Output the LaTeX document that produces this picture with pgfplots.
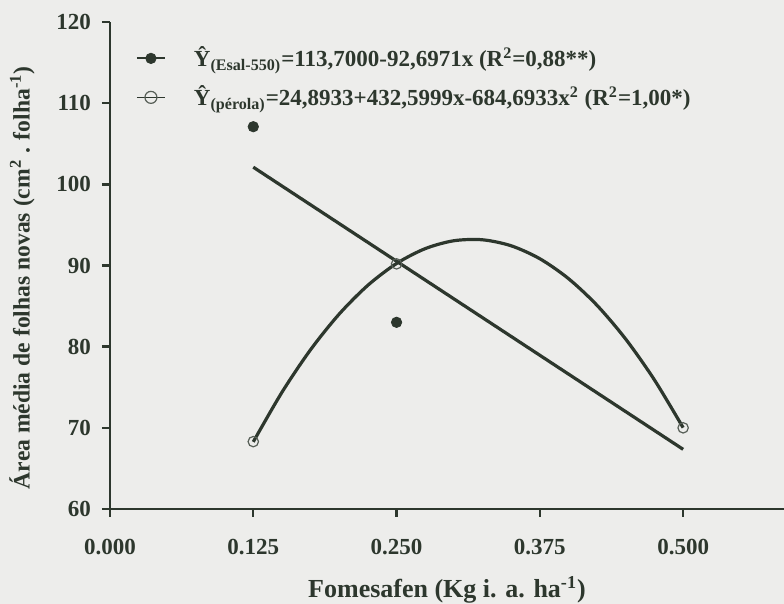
\documentclass[border=0pt]{standalone}
\usepackage{pgfplots}
\pgfplotsset{compat=1.18}
\usepackage{fontspec}
\setmainfont{Liberation Serif}
\definecolor{ink}{RGB}{45,55,45}
\definecolor{bg}{RGB}{237,237,235}
\begin{document}
\begin{tikzpicture}
\fill[bg] (-55pt,-47.5pt) rectangle (337pt,254.5pt);
\useasboundingbox (-55pt,-47.5pt) rectangle (337pt,254.5pt);
\begin{axis}[
  scale only axis, width=337pt, height=243.5pt,
  anchor=south west, at={(0,0)},
  xmin=0, xmax=0.588, ymin=60, ymax=120,
  axis lines*=left,
  axis line style={ink, line width=1.2pt},
  every tick/.style={ink, line width=1.2pt},
  tick align=outside, major tick length=4pt,
  xtick={0,0.125,0.25,0.375,0.5},
  xticklabels={0.000,0.125,0.250,0.375,0.500},
  ytick={60,70,80,90,100,110,120},
  tick label style={font=\bfseries\fontsize{11.5}{12}\selectfont, text=ink},
  /pgf/number format/assume math mode=true,
  xticklabel style={yshift=-7.5pt},
  yticklabel style={xshift=-2pt},
  xlabel={Fomesafen (Kg i. a. ha\textsuperscript{-1})},
  ylabel={Área média de folhas novas (cm\textsuperscript{2} . folha\textsuperscript{-1})},
  xlabel style={font=\bfseries\fontsize{13}{14}\selectfont, text=ink, yshift=-4pt},
  ylabel style={font=\bfseries\fontsize{11.8}{14}\selectfont, text=ink,
    at={(ticklabel cs:0.475)}, yshift=4pt},
  clip=false,
  legend style={draw=none, fill=none, at={(0.029,0.962)}, anchor=north west,
    font=\bfseries\fontsize{11.5}{13}\selectfont, text=ink, row sep=6pt,
    nodes={inner sep=1pt}},
  legend cell align=left,
]
% observed perola (open, under the lines)
\addplot[only marks, mark=o, mark size=2.6pt, ink!80, line width=0.6pt, forget plot] coordinates {(0.125,68.3) (0.25,90.2) (0.5,70.0)};
% fitted line Esal-550
\addplot[ink, line width=1.6pt, forget plot] coordinates {(0.125,102.113) (0.5,67.351)};
% fitted curve perola
\addplot[ink, line width=1.6pt, smooth, forget plot] coordinates {
(0.125,68.270) (0.15,74.377) (0.175,79.630) (0.2,84.025) (0.225,87.566)
(0.25,90.250) (0.275,92.078) (0.3,93.051) (0.325,93.168) (0.35,92.428)
(0.375,90.833) (0.4,88.382) (0.425,85.076) (0.45,80.913) (0.475,75.894) (0.5,70.020)};
% observed Esal-550
\addplot[only marks, mark=*, mark size=2.6pt, ink, forget plot] coordinates {(0.125,107.1) (0.25,83.0)};
\addlegendimage{legend image code/.code={\draw[ink,line width=1pt] (0pt,0pt)--(14pt,0pt); \fill[ink] (7pt,0pt) circle (2.6pt);}}
\addlegendentry{\hspace*{13pt}\^{Y}\textsubscript{(Esal-550)}=113,7000-92,6971x (R\textsuperscript{2}=0,88**)}
\addlegendimage{legend image code/.code={\draw[ink,line width=0.8pt] (0pt,0pt)--(14pt,0pt); \draw[ink!80,line width=0.6pt] (7pt,0pt) circle (3pt);}}
\addlegendentry{\hspace*{13pt}\^{Y}\textsubscript{(pérola)}=24,8933+432,5999x-684,6933x\textsuperscript{2} (R\textsuperscript{2}=1,00*)}
\end{axis}
\end{tikzpicture}
\end{document}
